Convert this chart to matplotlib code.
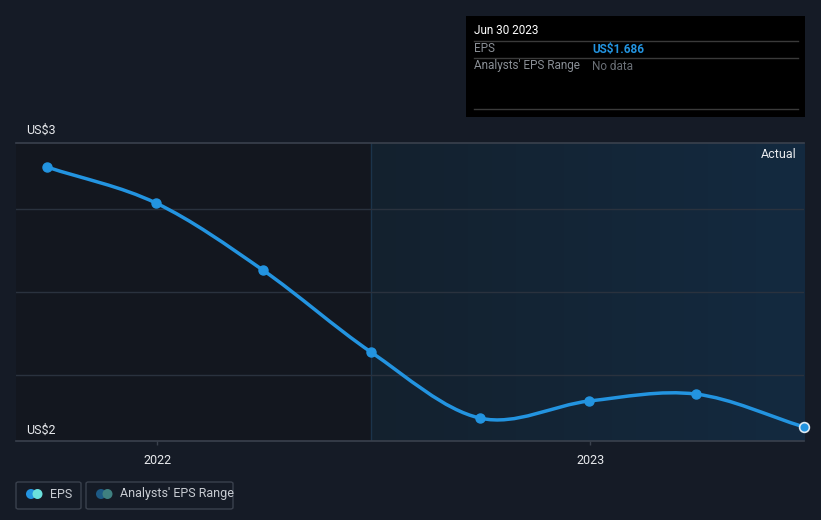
import datetime as dt

import numpy as np
import matplotlib
matplotlib.use("Agg")
import matplotlib.pyplot as plt
import matplotlib.dates as mdates
from matplotlib.path import Path
from matplotlib.patches import PathPatch, FancyBboxPatch

# data (EPS, US$)
dates = ["2021-09-30", "2021-12-31", "2022-03-31", "2022-06-30",
         "2022-09-30", "2022-12-31", "2023-03-31", "2023-06-30"]
eps = [2.889, 2.722, 2.412, 2.033, 1.727, 1.806, 1.838, 1.686]
x_ticks = ["2022-01-01", "2023-01-01"]
x_tick_labels = ["2022", "2023"]
grid_values = [2.695, 2.310, 1.926]
y_lo, y_hi = 1.621, 3.0

BG = "#151b26"
BLUE = "#2394e0"

plt.rcParams['font.family'] = ['Roboto', 'DejaVu Sans']

fig = plt.figure(figsize=(8.21, 5.2), dpi=100, facecolor=BG)
W, H = 821, 520
ax = fig.add_axes([16 / W, 1 - 441 / H, (804 - 16) / W, (441 - 143) / H])
ax.set_facecolor("#13171f")

xd = mdates.date2num([dt.datetime.fromisoformat(d) for d in dates])
x0 = mdates.date2num(dt.datetime(2021, 9, 4))
x1 = xd[-1]
ax.set_xlim(x0, x1)
ax.set_ylim(y_lo, y_hi)

# "actual" shaded region: gradient from the last year start to end
split = xd[3]
grad = np.linspace(0, 1, 256).reshape(1, -1)
cmap = matplotlib.colors.LinearSegmentedColormap.from_list(
    "g", ["#14212e", "#132a40"])
ax.imshow(grad, extent=[split, x1, y_lo, y_hi], aspect="auto",
          cmap=cmap, zorder=0, interpolation="bicubic")
ax.axvline(split, color="#1b344b", lw=1, zorder=1)

for g in grid_values:
    ax.axhline(g, color="#2a323e", lw=1, zorder=1)
ax.axhline(y_hi, color="#3a414d", lw=1.2, zorder=1, clip_on=False)

# smooth line through the points (cubic bezier segments)
pts = np.column_stack([xd, eps])
n = len(pts)
tang = np.zeros_like(pts)
for i in range(n):
    a = pts[max(i - 1, 0)]
    b = pts[min(i + 1, n - 1)]
    tang[i] = (b - a) / (2 if 0 < i < n - 1 else 1)
verts = [tuple(pts[0])]
codes = [Path.MOVETO]
for i in range(n - 1):
    c1 = pts[i] + tang[i] / 3
    c2 = pts[i + 1] - tang[i + 1] / 3
    verts += [tuple(c1), tuple(c2), tuple(pts[i + 1])]
    codes += [Path.CURVE4] * 3
ax.add_patch(PathPatch(Path(verts, codes), fill=False, edgecolor=BLUE,
                       lw=2.5, zorder=3, capstyle="round"))
ax.plot(xd[:-1], eps[:-1], "o", color=BLUE, ms=6.5, zorder=4)
ax.plot(xd[-1:], eps[-1:], "o", color=BLUE, ms=7, mec="#dde8f0", mew=1.2,
        zorder=5, clip_on=False)

ax.text(0.99, 1 - 11 / 298, "Actual", transform=ax.transAxes, ha="right",
        va="center", color="#e8eaed", fontsize=9)

for s in ["top", "left", "right"]:
    ax.spines[s].set_visible(False)
ax.spines["bottom"].set_color("#3a414d")
ax.spines["bottom"].set_linewidth(1.2)
ax.set_yticks([])
ax.set_xticks(mdates.date2num([dt.datetime.fromisoformat(d) for d in x_ticks]))
ax.set_xticklabels(x_tick_labels)
ax.tick_params(axis="x", colors="#3a414d", length=3, width=1, pad=6,
               labelcolor="#e8eaed", labelsize=9)

fig.text(26 / W, 1 - 130 / H, "US$3", color="#e8eaed", fontsize=9,
         va="center", ha="left")
fig.text(26 / W, 1 - 430 / H, "US$2", color="#e8eaed", fontsize=9,
         va="center", ha="left")

# tooltip box
fig.patches.append(matplotlib.patches.Rectangle(
    (466 / W, 1 - 117 / H), (805 - 466) / W, (117 - 16) / H,
    transform=fig.transFigure, facecolor="#000000", edgecolor="none"))
for yl in [41, 58, 109]:
    fig.add_artist(plt.Line2D([474 / W, 798 / W], [1 - yl / H] * 2,
                              color="#3a3a3a", lw=1))
fig.text(474 / W, 1 - 31 / H, "Jun 30 2023", color="#ffffff", fontsize=8.5,
         va="center")
fig.text(474 / W, 1 - 49 / H, "EPS", color="#8a8f96", fontsize=8.5,
         va="center")
fig.text(592 / W, 1 - 49 / H, "US$1.686", color=BLUE, fontsize=8.5,
         va="center", fontweight="bold")
fig.text(474 / W, 1 - 66 / H, "Analysts' EPS Range", color="#8a8f96",
         fontsize=8.5, va="center")
fig.text(592 / W, 1 - 66 / H, "No data", color="#6a6f76", fontsize=8.5,
         va="center")


# legend
def legend_item(x_left, x_right, label, c1, c2):
    fig.patches.append(FancyBboxPatch(
        (x_left / W, 1 - 509 / H), (x_right - x_left) / W, 27 / H,
        boxstyle="round,pad=0,rounding_size=0.003", transform=fig.transFigure,
        facecolor="none", edgecolor="#3a414d", lw=1))
    cy = 1 - 494 / H
    for cx, c in [(x_left + 15, c1), (x_left + 21.5, c2)]:
        fig.patches.append(matplotlib.patches.Ellipse(
            (cx / W, cy), 10 / W, 10 / H, transform=fig.transFigure,
            facecolor=c, edgecolor="none"))
    fig.text((x_left + 34) / W, cy, label, color="#c8ccd2", fontsize=9,
             va="center")


legend_item(16, 81, "EPS", BLUE, "#6ae0dc")
legend_item(86, 233, "Analysts' EPS Range", "#1d5a85", "#3f8080")

fig.savefig("out.png", dpi=100, facecolor=BG)
